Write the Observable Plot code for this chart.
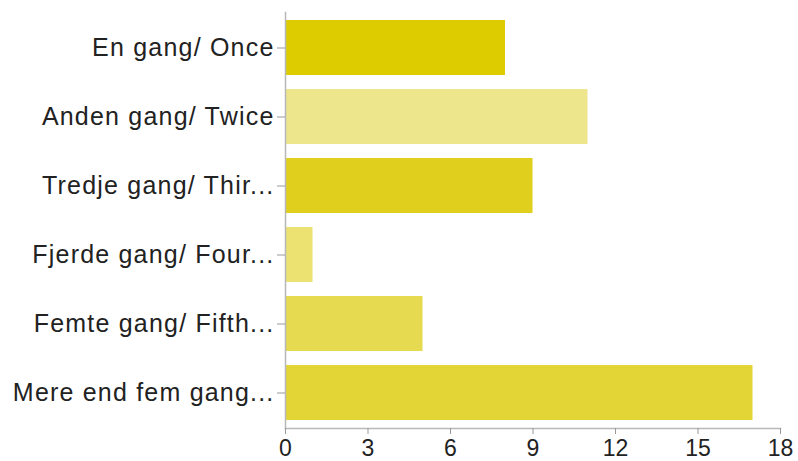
<!DOCTYPE html>
<html>
<head>
<meta charset="utf-8">
<script src="https://cdn.jsdelivr.net/npm/d3@7"></script>
<script src="https://cdn.jsdelivr.net/npm/@observablehq/plot@0.6"></script>
<style>
  html, body { margin: 0; padding: 0; background: #fff; }
  #chart svg { display: block; }
</style>
</head>
<body>
<div id="chart"></div>
<script>
const categories = [
  "En gang/ Once",
  "Anden gang/ Twice",
  "Tredje gang/ Thir...",
  "Fjerde gang/ Four...",
  "Femte gang/ Fifth...",
  "Mere end fem gang..."
];
const values = [8, 11, 9, 1, 5, 17];
const barColors = ["#dccc00", "#ede68c", "#e0cf1c", "#ece271", "#e6da50", "#e3d536"];
const xTicks = [0, 3, 6, 9, 12, 15, 18];

const data = categories.map((c, i) => ({category: c, value: values[i]}));

const chart = Plot.plot({
  width: 798,
  height: 461,
  marginLeft: 285,
  marginRight: 18,
  marginTop: 12,
  marginBottom: 33,
  style: {fontFamily: "Liberation Sans, Arial, Helvetica, sans-serif", fontSize: "24px", color: "#222", background: "#fff"},
  x: {domain: [0, 18], ticks: xTicks, label: null},
  y: {domain: categories, paddingInner: 0.2, paddingOuter: 0.1, label: null},
  color: {type: "ordinal", domain: categories, range: barColors},
  marks: [
    Plot.barX(data, {y: "category", x: "value", fill: "category"}),
    Plot.frame({anchor: "left", stroke: "#b8b8b8", strokeWidth: 1.5}),
    Plot.frame({anchor: "bottom", stroke: "#b8b8b8", strokeWidth: 1.5}),
    Plot.axisY({tickSize: 8, tickPadding: 3, stroke: "#999", fontSize: 25, label: null}),
    Plot.axisX({ticks: xTicks, tickSize: 6, tickPadding: 5, stroke: "#999", fontSize: 23, label: null})
  ]
});
chart.querySelectorAll("[aria-label='y-axis tick label'] text").forEach(t => t.setAttribute("letter-spacing", "1.2"));
document.getElementById("chart").appendChild(chart);
</script>
</body>
</html>
